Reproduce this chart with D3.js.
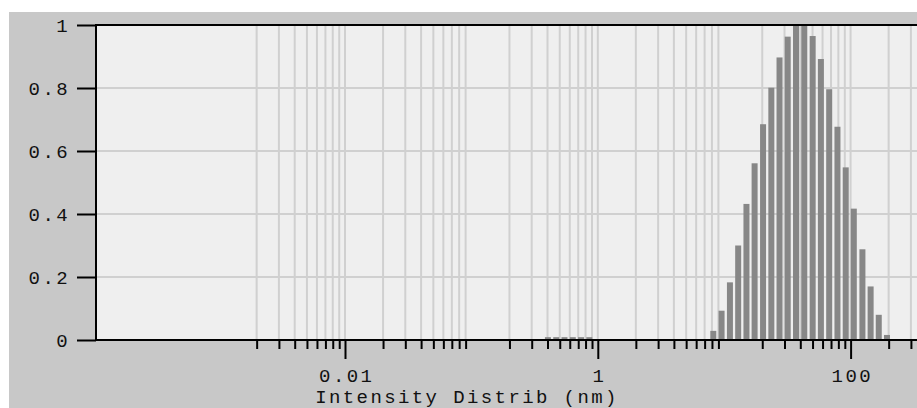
<!DOCTYPE html>
<html>
<head>
<meta charset="utf-8">
<script src="https://cdn.jsdelivr.net/npm/d3@7"></script>
<style>
  html, body { margin: 0; padding: 0; background: #ffffff; }
  svg { display: block; }
  text { font-family: "Liberation Mono", "Courier New", monospace; fill: #111; }
</style>
</head>
<body>
<svg id="chart" width="917" height="408"></svg>
<script>
// ---- data ----
const sizes = [0.403, 0.469, 0.545, 0.634, 0.737, 0.857,
  8.20, 9.53, 11.1, 12.9, 15.0, 17.4, 20.3, 23.6, 27.4, 31.8, 37.0,
  43.0, 50.1, 58.2, 67.7, 78.7, 91.5, 106, 124, 144, 167, 194];
const intensity = [0.009, 0.009, 0.009, 0.009, 0.009, 0.009,
  0.029, 0.093, 0.183, 0.300, 0.432, 0.561, 0.685, 0.801, 0.897, 0.963, 0.998,
  1.000, 0.965, 0.892, 0.796, 0.677, 0.548, 0.417, 0.288, 0.170, 0.080, 0.016];
const majorTicks = [0.01, 1, 100];
const majorLabels = ["0.01", "1", "100"];
const minorTicks = [0.002, 0.003, 0.004, 0.005, 0.006, 0.007, 0.008, 0.009,
  0.02, 0.03, 0.04, 0.05, 0.06, 0.07, 0.08, 0.09,
  0.2, 0.3, 0.4, 0.5, 0.6, 0.7, 0.8, 0.9,
  2, 3, 4, 5, 6, 7, 8, 9,
  20, 30, 40, 50, 60, 70, 80, 90,
  200, 300, 400];
const yTicks = [0, 0.2, 0.4, 0.6, 0.8, 1];
const yLabels = ["0", "0.2", "0.4", "0.6", "0.8", "1"];
const xTitle = "Intensity Distrib (nm)";

// ---- layout ----
const W = 917, H = 408;
const plotLeft = 96, plotTop = 25, plotBottom = 340, plotRight = 917;
const svg = d3.select("#chart");

const x = d3.scaleLog().domain([0.01, 100]).range([345, 850.6]);
const y = d3.scaleLinear().domain([0, 1]).range([plotBottom, plotTop]);

// outer gray background
svg.append("rect").attr("x", 9).attr("y", 12).attr("width", W - 9).attr("height", H - 12)
  .attr("fill", "#c8c8c8");
// plot area
svg.append("rect").attr("x", plotLeft).attr("y", plotTop)
  .attr("width", plotRight - plotLeft).attr("height", plotBottom - plotTop)
  .attr("fill", "#efefef");

const clip = svg.append("clipPath").attr("id", "pclip").append("rect")
  .attr("x", plotLeft).attr("y", plotTop).attr("width", plotRight - plotLeft).attr("height", plotBottom - plotTop);

// grid
const grid = svg.append("g").attr("clip-path", "url(#pclip)");
grid.selectAll("line.vg").data(minorTicks.concat(majorTicks)).enter().append("line")
  .attr("x1", d => x(d)).attr("x2", d => x(d))
  .attr("y1", plotTop).attr("y2", plotBottom)
  .attr("stroke", "#d0d0d0").attr("stroke-width", 2);
grid.selectAll("line.hg").data(yTicks.filter(d => d > 0 && d < 1)).enter().append("line")
  .attr("x1", plotLeft).attr("x2", plotRight)
  .attr("y1", d => y(d)).attr("y2", d => y(d))
  .attr("stroke", "#d0d0d0").attr("stroke-width", 2);

// bars
const barW = 6;
svg.append("g").attr("clip-path", "url(#pclip)")
  .selectAll("rect").data(sizes).enter().append("rect")
  .attr("x", (d) => x(d) - barW / 2)
  .attr("width", barW)
  .attr("y", (d, i) => y(intensity[i]))
  .attr("height", (d, i) => plotBottom - y(intensity[i]))
  .attr("fill", "#878787");

// x axis: minor ticks
const xMinor = d3.axisBottom(x).tickValues(minorTicks).tickSize(9).tickFormat("");
const gMinor = svg.append("g").attr("transform", `translate(0,${plotBottom})`).call(xMinor);
gMinor.select(".domain").remove();
gMinor.selectAll(".tick line").attr("stroke", "#000").attr("stroke-width", 2);

// x axis: major ticks with labels
const xMajor = d3.axisBottom(x).tickValues(majorTicks).tickSize(19)
  .tickFormat((d, i) => majorLabels[i]);
const gMajor = svg.append("g").attr("transform", `translate(0,${plotBottom})`).call(xMajor);
gMajor.select(".domain").remove();
gMajor.selectAll(".tick line").attr("stroke", "#000").attr("stroke-width", 2);
gMajor.selectAll(".tick text")
  .attr("y", 42).attr("dy", 0)
  .attr("dx", 1.2)
  .style("font-size", "19px").style("letter-spacing", "2.4px")
  .attr("fill", "#111");

// x axis line
svg.append("line").attr("x1", plotLeft).attr("x2", plotRight)
  .attr("y1", plotBottom).attr("y2", plotBottom)
  .attr("stroke", "#000").attr("stroke-width", 2);

// y axis
const yAxis = d3.axisLeft(y).tickValues(yTicks).tickSize(19).tickPadding(7)
  .tickFormat((d, i) => yLabels[i]);
const gY = svg.append("g").attr("transform", `translate(${plotLeft},0)`).call(yAxis);
gY.select(".domain").remove();
gY.selectAll(".tick line").attr("stroke", "#000").attr("stroke-width", 2);
gY.selectAll(".tick text")
  .style("font-size", "19px").style("letter-spacing", "2.4px")
  .attr("dy", "0.35em")
  .attr("fill", "#111");

svg.append("line").attr("x1", plotLeft).attr("x2", plotLeft)
  .attr("y1", plotTop - 1).attr("y2", plotBottom + 1)
  .attr("stroke", "#000").attr("stroke-width", 2);
// top border
svg.append("line").attr("x1", plotLeft).attr("x2", plotRight)
  .attr("y1", plotTop).attr("y2", plotTop)
  .attr("stroke", "#000").attr("stroke-width", 2);

// x title
svg.append("text").attr("x", 467).attr("y", 403)
  .attr("text-anchor", "middle")
  .style("font-size", "19px").style("letter-spacing", "2.4px")
  .text(xTitle);
</script>
</body>
</html>
